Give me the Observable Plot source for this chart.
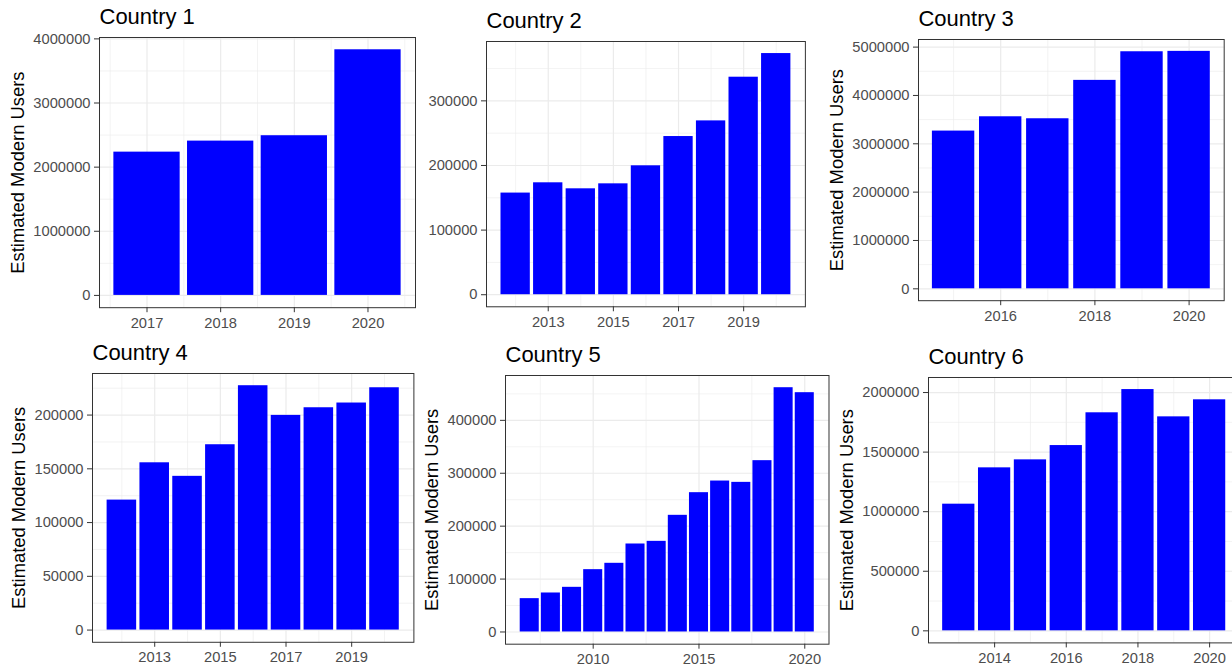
<!DOCTYPE html>
<html>
<head>
<meta charset="utf-8">
<script src="https://cdn.jsdelivr.net/npm/d3@7"></script>
<script src="https://cdn.jsdelivr.net/npm/@observablehq/plot@0.6"></script>
<style>
  html, body { margin: 0; padding: 0; background: #fff; overflow: hidden; }
  #wrap { position: relative; width: 1232px; height: 668px; overflow: hidden; background: #fff; }
  #wrap svg { position: absolute; overflow: visible; }
  .pan g[aria-label="x-axis tick"], .pan g[aria-label="y-axis tick"] { stroke: #333333; }
  .pan g[aria-label="x-axis tick label"], .pan g[aria-label="y-axis tick label"] { fill: #4D4D4D; }
</style>
</head>
<body>
<div id="wrap"></div>
<script>
// ---- data ----
const titles = ["Country 1", "Country 2", "Country 3", "Country 4", "Country 5", "Country 6"];
const yLabel = "Estimated Modern Users";
const showYLabel = [true, false, true, true, true, true];

const years1 = [2017, 2018, 2019, 2020];
const users1 = [2234000, 2406000, 2490000, 3830000];
const years2 = [2012, 2013, 2014, 2015, 2016, 2017, 2018, 2019, 2020];
const users2 = [157300, 173200, 163900, 171600, 199500, 244800, 269000, 336600, 373200];
const years3 = [2015, 2016, 2017, 2018, 2019, 2020];
const users3 = [3263000, 3559000, 3518000, 4312000, 4904000, 4912000];
const years4 = [2012, 2013, 2014, 2015, 2016, 2017, 2018, 2019, 2020];
const users4 = [120900, 155600, 143000, 172400, 227300, 199700, 206800, 211200, 225400];
const years5 = [2007, 2008, 2009, 2010, 2011, 2012, 2013, 2014, 2015, 2016, 2017, 2018, 2019, 2020];
const users5 = [63000, 73700, 84400, 117800, 129800, 166300, 171300, 220500, 263300, 285300, 282800, 323800, 461700, 452300];
const years6 = [2013, 2014, 2015, 2016, 2017, 2018, 2019, 2020];
const users6 = [1063000, 1368000, 1435000, 1555000, 1830000, 2025000, 1796000, 1939000];

const xTicks1 = [2017, 2018, 2019, 2020];
const yTicks1 = [0, 1000000, 2000000, 3000000, 4000000];
const xTicks2 = [2013, 2015, 2017, 2019];
const yTicks2 = [0, 100000, 200000, 300000];
const xTicks3 = [2016, 2018, 2020];
const yTicks3 = [0, 1000000, 2000000, 3000000, 4000000, 5000000];
const xTicks4 = [2013, 2015, 2017, 2019];
const yTicks4 = [0, 50000, 100000, 150000, 200000];
const xTicks5 = [2010, 2015, 2020];
const yTicks5 = [0, 100000, 200000, 300000, 400000];
const xTicks6 = [2014, 2016, 2018, 2020];
const yTicks6 = [0, 500000, 1000000, 1500000, 2000000];

// ---- layout (panel box: left, top, right, bottom) ----
const boxes = [
  [99, 36.5, 415, 306.7],
  [486.3, 40.7, 805.2, 306],
  [918, 39.4, 1223.7, 300.6],
  [91.8, 373.4, 413.2, 642.2],
  [505, 374.5, 828.5, 643.2],
  [928.2, 377, 1239.6, 642.4]
];

const series = [
  [years1, users1, xTicks1, yTicks1],
  [years2, users2, xTicks2, yTicks2],
  [years3, users3, xTicks3, yTicks3],
  [years4, users4, xTicks4, yTicks4],
  [years5, users5, xTicks5, yTicks5],
  [years6, users6, xTicks6, yTicks6]
];

function minorOf(ticks, domain) {
  const step = ticks[1] - ticks[0];
  const out = [];
  const cands = [ticks[0] - step / 2, ...ticks.map(t => t + step / 2)];
  for (const c of cands) if (c >= domain[0] && c <= domain[1]) out.push(c);
  return out;
}

const wrap = document.getElementById("wrap");
const mL = 100, mR = 10, mT = 40, mB = 30;

series.forEach(([years, users, xT, yT], i) => {
  const data = years.map((y, j) => ({year: y, value: users[j]}));
  const x0 = d3.min(years) - 0.45, x1 = d3.max(years) + 0.45;
  const xr = x1 - x0;
  const xDomain = [x0 - 0.05 * xr, x1 + 0.05 * xr];
  const ymax = d3.max(users);
  const yDomain = [-0.05 * ymax, 1.05 * ymax];
  const [L, T, R, B] = boxes[i];
  const maxLen = d3.max(yT, t => String(t).length);

  const marks = [
    Plot.ruleX(minorOf(xT, xDomain), {stroke: "#EBEBEB", strokeWidth: 0.6}),
    Plot.ruleY(minorOf(yT, yDomain), {stroke: "#EBEBEB", strokeWidth: 0.6}),
    Plot.ruleX(xT, {stroke: "#EBEBEB", strokeWidth: 1.2}),
    Plot.ruleY(yT, {stroke: "#EBEBEB", strokeWidth: 1.2}),
    Plot.rectY(data, {x1: d => d.year - 0.45, x2: d => d.year + 0.45, y: "value", fill: "#0000FF"}),
    Plot.frame({stroke: "#333333", strokeWidth: 1}),
    Plot.axisX({ticks: xT, tickFormat: "d", tickSize: 5, tickPadding: 4.4, label: null, fontSize: 14.7}),
    Plot.axisY({ticks: yT, tickFormat: "d", tickSize: 5, tickPadding: 4, label: null, fontSize: 14.7}),
    Plot.text([titles[i]], {text: d => d, frameAnchor: "top-left", dy: -13.5, textAnchor: "start", lineAnchor: "bottom", fontSize: 22, fill: "black"})
  ];
  if (showYLabel[i]) {
    marks.push(Plot.text([yLabel], {text: d => d, frameAnchor: "left", textAnchor: "middle", lineAnchor: "middle", rotate: -90, dx: -(maxLen * 8.17 + 24), fontSize: 18.4, fill: "black"}));
  }

  const svg = Plot.plot({
    className: "pan",
    width: mL + (R - L) + mR,
    height: mT + (B - T) + mB,
    marginLeft: mL, marginRight: mR, marginTop: mT, marginBottom: mB,
    style: {fontFamily: "'Liberation Sans', Arial, sans-serif", fontSize: "14.7px", background: "transparent", overflow: "visible"},
    x: {type: "linear", domain: xDomain},
    y: {type: "linear", domain: yDomain},
    marks
  });
  svg.style.left = (L - mL) + "px";
  svg.style.top = (T - mT) + "px";
  wrap.appendChild(svg);
});
</script>
</body>
</html>
